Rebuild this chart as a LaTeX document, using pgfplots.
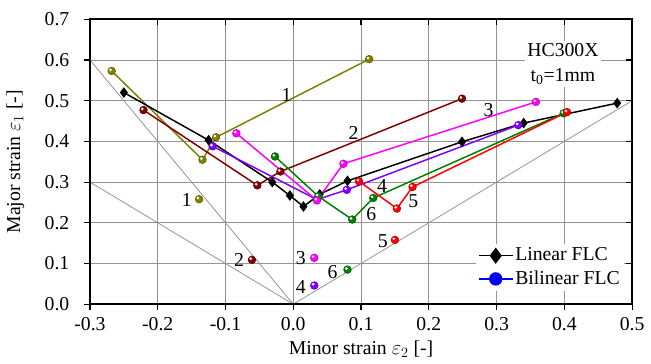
\documentclass[border=0pt]{standalone}
\usepackage{pgfplots}
\pgfplotsset{compat=1.18}
\usepackage{fontspec}
\setmainfont{Liberation Serif}
\definecolor{cOlive}{RGB}{128,128,0}
\definecolor{cMaroon}{RGB}{128,0,0}
\definecolor{cMag}{RGB}{255,0,255}
\definecolor{cGreen}{RGB}{0,128,0}
\definecolor{cRed}{RGB}{255,0,0}
\definecolor{cViolet}{RGB}{128,0,255}
\pgfdeclareplotmark{ball}{%
  \pgfpathcircle{\pgfpointorigin}{\pgfplotmarksize}%
  \pgfusepathqfillstroke
  \begin{pgfscope}%
  \pgfsetfillcolor{white}%
  \pgfpathcircle{\pgfpoint{-0.3\pgfplotmarksize}{0.3\pgfplotmarksize}}{0.38\pgfplotmarksize}%
  \pgfusepathqfill
  \end{pgfscope}%
}
\pgfplotsset{
  ser/.style={#1, line width=1.5bp, mark=ball, mark size=3.9bp, mark options={fill=#1, draw=#1!75!black, line width=0.6bp}, forget plot},
  iso/.style={only marks, mark=ball, mark size=3.9bp, mark options={fill=#1, draw=#1!75!black, line width=0.6bp}, forget plot},
}
\begin{document}
\fontsize{20}{26}\selectfont
\begin{tikzpicture}
\begin{axis}[
  name=ax,
  scale only axis, width=548bp, height=288bp,
  xmin=-0.3, xmax=0.5, ymin=0, ymax=0.7,
  xtick={-0.3,-0.2,-0.1,0,0.1,0.2,0.3,0.4,0.5},
  ytick={0,0.1,0.2,0.3,0.4,0.5,0.6,0.7},
  xtick pos=bottom, ytick pos=left, tick align=outside,
  major tick length=6bp,
  grid=major, grid style={black!42, line width=0.8bp},
  axis line style={line width=1.6bp},
  tick style={black, line width=1.2bp},
  /pgf/number format/assume math mode=true,
  xticklabel style={/pgf/number format/fixed, /pgf/number format/fixed zerofill, /pgf/number format/precision=1},
  yticklabel style={xshift=-8bp, /pgf/number format/fixed, /pgf/number format/fixed zerofill, /pgf/number format/precision=1},
  xlabel={Minor strain $\varepsilon_2$ [-]},
  ylabel={Major strain $\varepsilon_1$ [-]},
  xlabel style={yshift=3bp},
  ylabel style={yshift=7bp},
  legend style={at={(rel axis cs:0.985,0.045)}, anchor=south east, draw=none, fill=white, inner sep=2bp, row sep=3bp},
  legend cell align=left,
  legend image code/.code={\draw[mark repeat=2,mark phase=2,#1] plot coordinates {(0bp,0bp)(17bp,0bp)(34bp,0bp)};},
]
\addplot[black!42, line width=0.8bp, forget plot] coordinates {(-0.3,0.6)(0,0)(0.5,0.5)};
\addplot[black!42, line width=0.8bp, forget plot] coordinates {(-0.3,0.3)(0,0)};

\addplot[ser=cOlive] coordinates {(-0.268,0.573)(-0.134,0.355)(-0.114,0.41)(0.112,0.602)};
\addplot[iso=cOlive] coordinates {(-0.139,0.258)};
\addplot[ser=cMaroon] coordinates {(-0.221,0.477)(-0.053,0.292)(-0.019,0.326)(0.249,0.505)};
\addplot[iso=cMaroon] coordinates {(-0.061,0.109)};
\addplot[black, line width=1.5bp, mark=diamond*, mark size=4.2bp, forget plot] coordinates {(-0.25,0.52)(-0.125,0.403)(-0.031,0.300)(-0.005,0.267)(0.015,0.24)(0.039,0.27)(0.08,0.303)(0.249,0.399)(0.34,0.445)(0.478,0.494)};
\addplot[ser=cViolet] coordinates {(-0.119,0.388)(0.035,0.257)(0.079,0.281)(0.332,0.44)};
\addplot[iso=cViolet] coordinates {(0.031,0.046)};
\addplot[ser=cGreen] coordinates {(-0.027,0.363)(0.037,0.265)(0.087,0.208)(0.118,0.261)(0.399,0.469)};
\addplot[iso=cGreen] coordinates {(0.080,0.085)};
\addplot[ser=cRed] coordinates {(0.097,0.302)(0.153,0.235)(0.176,0.288)(0.404,0.472)};
\addplot[iso=cRed] coordinates {(0.150,0.158)};
\addplot[ser=cMag] coordinates {(-0.084,0.42)(0.035,0.255)(0.074,0.345)(0.358,0.497)};
\addplot[iso=cMag] coordinates {(0.031,0.114)};

\addlegendimage{black, line width=1.5bp, mark=diamond*, mark size=7bp}
\addlegendentry{Linear FLC}
\addlegendimage{blue, line width=1.5bp, mark=*, mark size=6bp}
\addlegendentry{Bilinear FLC}

\node at (axis cs:-0.01,0.515) {1};
\node at (axis cs:0.089,0.42) {2};
\node at (axis cs:0.288,0.478) {3};
\node at (axis cs:0.131,0.29) {4};
\node at (axis cs:0.177,0.254) {5};
\node at (axis cs:0.115,0.222) {6};
\node at (axis cs:-0.157,0.255) {1};
\node at (axis cs:-0.08,0.108) {2};
\node at (axis cs:0.011,0.113) {3};
\node at (axis cs:0.011,0.043) {4};
\node at (axis cs:0.058,0.08) {6};
\node at (axis cs:0.132,0.155) {5};
\node[fill=white, align=center, inner sep=2bp] at (axis cs:0.398,0.59) {HC300X\\t\textsubscript{0}=1mm};
\end{axis}
\begin{axis}[
  scale only axis, width=548bp, height=288bp,
  xmin=-0.3, xmax=0.5, ymin=0, ymax=0.7,
  xtick={-0.3,-0.2,-0.1,0,0.1,0.2,0.3,0.4,0.5},
  ytick={0,0.1,0.2,0.3,0.4,0.5,0.6,0.7},
  xtick pos=top, ytick pos=right, tick align=inside,
  major tick length=6bp,
  xticklabels={}, yticklabels={},
  axis line style={line width=1.6bp},
  tick style={black, line width=1.2bp},
]
\end{axis}
\path (ax.north west) ++(0,19bp) node[inner sep=0pt]{};
\end{tikzpicture}
\end{document}
